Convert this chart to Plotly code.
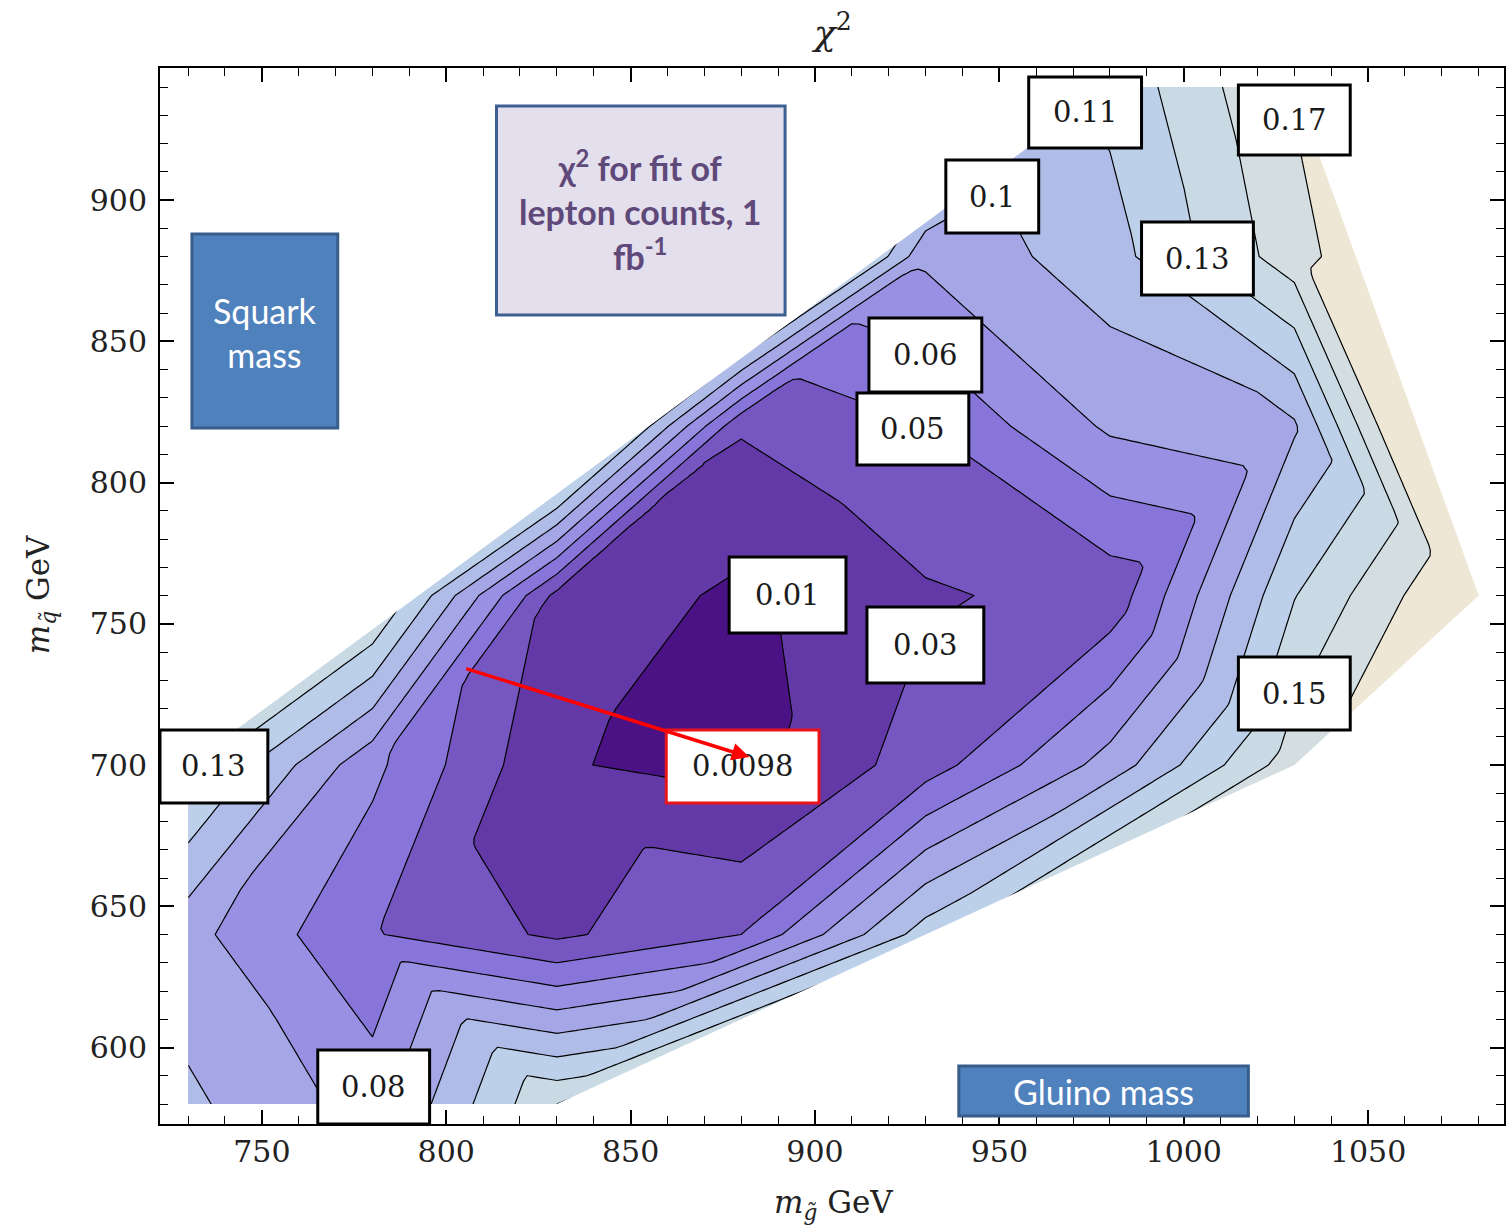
import numpy as np
import plotly.graph_objects as go

# ---------------- data ----------------
# scan points (gluino mass, squark mass) and chi^2 values
gluino_mass = [730, 780, 830, 880, 930, 980, 1030, 1080]
squark_mass = [580, 640, 700, 760, 820, 880, 940]
chi2 = [
    [0.1039, 0.0767, 0.1515, 0.2280, 0.2195, 0.2365, 0.2535, 0.2705],  # 580
    [0.0891, 0.0509, 0.0291, 0.0495, 0.1260, 0.1971, 0.2195, 0.2365],  # 640
    [0.1418, 0.0708, 0.0169, 0.0097, 0.0410, 0.0905, 0.1615, 0.2110],  # 700
    [0.2195, 0.1600, 0.0274, 0.0121, 0.0305, 0.0381, 0.1337, 0.1923],  # 760
    [0.2705, 0.2535, 0.2025, 0.0342, 0.0495, 0.0864, 0.0980, 0.2535],  # 820
    [0.3045, 0.2875, 0.2705, 0.2365, 0.0869, 0.1104, 0.1612, 0.2107],  # 880
    [0.3215, 0.3045, 0.2875, 0.2875, 0.1770, 0.1219, 0.1704, 0.2198],  # 940
]
# triangulation of each grid cell as in the original linear interpolation
# 0: diagonal lower-left -> upper-right, 1: upper-left -> lower-right
cell_diagonal = [
    [1, 1, 0, 0, 0, 0, 0],
    [0, 0, 1, 0, 0, 0, 0],
    [0, 0, 0, 0, 0, 1, 0],
    [0, 0, 0, 0, 1, 0, 1],
    [0, 0, 0, 0, 1, 1, 1],
    [0, 0, 0, 0, 0, 0, 0],
]
# boundary of the sampled region (convex hull of the scan points)
hull_gluino = [730, 830, 1030, 1080, 1030, 980, 730, 730]
hull_squark = [580, 580, 700, 760, 940, 940, 700, 580]

contour_start, contour_end, contour_step = 0.0155, 0.1685, 0.017

band_colors = ["#4b1285", "#6339a8", "#7657c2", "#8775d9", "#9990e3", "#a4a6e6",
               "#b0bce8", "#bcd0ea", "#c9dae5", "#d4dde0", "#efe7d6"]

contour_labels = ["0.11", "0.17", "0.1", "0.13", "0.06", "0.05", "0.01", "0.03",
                  "0.15", "0.13", "0.08"]
min_label = "0.0098"

# ------- piecewise-linear (triangulated) surface, like ListContourPlot -------
gx = np.array(gluino_mass, float)
gy = np.array(squark_mass, float)
Z = np.array(chi2, float)
D = np.array(cell_diagonal)
xf = np.arange(gx[0], gx[-1] + 0.01, 2.0)
yf = np.arange(gy[0], gy[-1] + 0.01, 2.0)
X, Y = np.meshgrid(xf, yf)
ii = np.clip(np.searchsorted(gx, X, side="right") - 1, 0, len(gx) - 2)
jj = np.clip(np.searchsorted(gy, Y, side="right") - 1, 0, len(gy) - 2)
s = (X - gx[ii]) / (gx[ii + 1] - gx[ii])
t = (Y - gy[jj]) / (gy[jj + 1] - gy[jj])
z00, z10 = Z[jj, ii], Z[jj, ii + 1]
z01, z11 = Z[jj + 1, ii], Z[jj + 1, ii + 1]
zA = np.where(s >= t, z00 + s * (z10 - z00) + t * (z11 - z10),
              z00 + t * (z01 - z00) + s * (z11 - z01))
zB = np.where(s + t <= 1, z00 + s * (z10 - z00) + t * (z01 - z00),
              z11 + (1 - s) * (z01 - z11) + (1 - t) * (z10 - z11))
Zf = np.where(D[jj, ii] == 1, zB, zA)

# ---------------- figure ----------------
W, H = 1508, 1232
L, R, T, B = 160, 2, 68, 108
PW, PH = W - L - R, H - T - B


def fx(p):
    return (p - L) / PW


def fy(p):
    return (H - B - p) / PH


nb = len(band_colors)
zmin = contour_start - contour_step
zmax = contour_end + contour_step
cscale = []
for k, c in enumerate(band_colors):
    cscale.append([k / nb, c])
    cscale.append([(k + 1) / nb, c])

fig = go.Figure()
fig.add_trace(go.Contour(
    x=xf.tolist(), y=yf.tolist(), z=Zf.tolist(),
    zmin=zmin, zmax=zmax, zauto=False,
    colorscale=cscale, showscale=False,
    contours=dict(start=contour_start, end=contour_end, size=contour_step,
                  coloring="fill", showlines=True),
    line=dict(color="black", width=1.2, smoothing=0),
    hoverinfo="skip",
))

# white mask outside the sampled region
mask_x = hull_gluino + [700, 700, 1100, 1100, 700, 730]
mask_y = hull_squark + [560, 960, 960, 560, 560, 580]
fig.add_trace(go.Scatter(x=mask_x, y=mask_y, mode="lines", fill="toself",
                         fillcolor="white", line=dict(width=0, color="white"),
                         hoverinfo="skip"))

shapes = []
annots = []
serif = "DejaVu Serif"
sans = "Lato"


def text(px, py, txt, size, color="#1a1a1a", family=serif, **kw):
    d = dict(xref="paper", yref="paper", x=fx(px), y=fy(py), text=txt,
             showarrow=False, xanchor="center", yanchor="middle",
             font=dict(family=family, size=size, color=color))
    d.update(kw)
    annots.append(d)


def box(x0, y0, x1, y1, fill, line, width=3):
    shapes.append(dict(type="rect", xref="paper", yref="paper",
                       x0=fx(x0), x1=fx(x1), y0=fy(y1), y1=fy(y0),
                       fillcolor=fill, line=dict(color=line, width=width),
                       layer="above"))


# contour label boxes (pixel positions)
label_boxes = [
    (1030, 77, 1143, 148), (1240, 85, 1352, 155), (947, 160, 1040, 233),
    (1143, 222, 1255, 295), (870, 318, 983, 392), (858, 393, 970, 465),
    (730, 557, 847, 633), (868, 607, 985, 683), (1240, 657, 1352, 730),
    (160, 730, 268, 803), (318, 1050, 430, 1124),
]
for txt, (x0, y0, x1, y1) in zip(contour_labels, label_boxes):
    box(x0, y0, x1, y1, "white", "black")
    text((x0 + x1) / 2, (y0 + y1) / 2, txt, 29)

# minimum value box (red)
box(667, 730, 820, 803, "white", "#e8141a")
text(743, 766, min_label, 29)

# text boxes
box(497, 106, 786, 315, "#e4dfec", "#3d5f91")
text(641, 210, "<b>\u03c7<sup>2</sup> for fit of<br>lepton counts, 1<br>fb<sup>-1</sup></b>",
     34, color="#5f497a", family=sans, align="center")

box(192, 234, 338, 428, "#4f81bd", "#385d8a")
text(265, 332, "Squark<br>mass", 34, color="white", family=sans, align="center")

box(960, 1066, 1250, 1116, "#4f81bd", "#385d8a")
text(1105, 1091, "Gluino mass", 34, color="white", family=sans)

# red arrow pointing to the minimum
annots.append(dict(xref="x", yref="y", axref="x", ayref="y",
                   x=882.2, y=702.8, ax=805.0, ay=734.3, text="",
                   showarrow=True, arrowhead=2, arrowsize=1.0,
                   arrowwidth=3.5, arrowcolor="#ff0000"))

# title and axis titles
text(832, 30, "<i>\u03c7</i><sup>2</sup>", 36, color="#222")
text(835, 1204, "<i>m</i><sub><i>g\u0303</i></sub> GeV", 31, color="#222")
text(40, 595, "<i>m</i><sub><i>q\u0303</i></sub> GeV", 31, color="#222", textangle=-90)

axis_common = dict(
    showgrid=False, zeroline=False, showline=True, linecolor="black", linewidth=2,
    mirror="ticks", ticks="inside", ticklen=14, tickwidth=1.5, tickcolor="black",
    tick0=0, dtick=50,
    tickfont=dict(family=serif, size=30, color="#222"),
    minor=dict(ticks="inside", ticklen=8, tickwidth=1.3, tickcolor="black",
               tick0=0, dtick=10, showgrid=False),
)

fig.update_layout(
    width=W, height=H, margin=dict(l=L, r=R, t=T, b=B),
    plot_bgcolor="white", paper_bgcolor="white", showlegend=False,
    xaxis=dict(range=[722.38, 1086.85], ticklabelstandoff=0, **axis_common),
    yaxis=dict(range=[572.93, 946.73], ticklabelstandoff=5, **axis_common),
    shapes=shapes, annotations=annots,
)

fig.write_html("out.html")
